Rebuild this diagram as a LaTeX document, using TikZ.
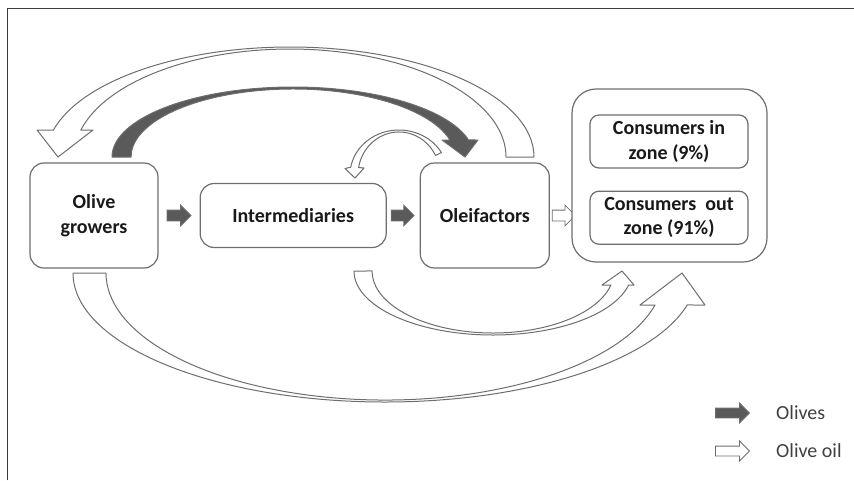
\documentclass[tikz,border=0pt]{standalone}
\usepackage{fontspec}
\setmainfont{Carlito}
\usetikzlibrary{arrows.meta, positioning, shapes.arrows}
\definecolor{edgegray}{RGB}{110,110,110}
\definecolor{olivefill}{RGB}{90,90,90}
\definecolor{framegray}{RGB}{60,60,60}

\begin{document}
\begin{tikzpicture}[
    x=1pt, y=-1pt,
    font=\fontsize{20}{24.5}\selectfont\bfseries,
    actorst/.style={draw=edgegray, line width=1.2pt, fill=white, rounded corners=14pt,
                    align=center, text=black!90, inner sep=2pt},
    consst/.style={draw=edgegray, line width=1.2pt, rounded corners=9pt,
                   minimum width=158pt, minimum height=53pt,
                   align=center, text=black!90, inner sep=2pt},
    olivearr/.style={single arrow, draw=edgegray, fill=olivefill, line width=0.8pt,
                     inner sep=0pt, inner ysep=5pt, single arrow head extend=5pt,
                     minimum height=24pt},
    oilarr/.style={olivearr, fill=white},
    curvedolive/.style={draw=edgegray, fill=olivefill, line width=1pt, line join=round},
    curvedoil/.style={curvedolive, fill=white},
    legtext/.style={font=\fontsize{20}{24}\selectfont, text=black!75, inner sep=0pt},
  ]
  \useasboundingbox (0,0) rectangle (854,480);
  %% Frame
  \draw[framegray, line width=0.8pt] (7,480) -- (7,8) -- (854,8);
  %% Main chain (left to right)
  \node[actorst, minimum width=128pt, minimum height=105pt] (growers) at (94,215.5) {Olive\\growers};
  \node[olivearr, right=8pt of growers] (g2i) {};
  \node[actorst, minimum width=186pt, minimum height=64pt, right=8pt of g2i] (inter) {Intermediaries};
  \node[olivearr, minimum height=23pt, right=4pt of inter] (i2o) {};
  \node[actorst, minimum width=129pt, minimum height=105pt, right=5pt of i2o] (oleif) {Oleifactors};
  \node[oilarr, minimum height=23pt, right=2pt of oleif] (o2c) {};
  %% Consumers
  \node[actorst, rounded corners=24pt, minimum width=195pt, minimum height=173pt] (cons) at (669.5,175.5) {};
  \node[consst] (inzone) at (669,141.5) {Consumers in\\zone (9\%)};
  \node[consst, below=22pt of inzone] (outzone) {Consumers~~out\\zone (91\%)};
  %% Curved flows
  % oil back to the growers
  \path[curvedoil] (534,157) arc[start angle=0, end angle=165.8, x radius=244pt, y radius=110pt]
    -- (37,130) -- (58,157) -- (93,130) -- (80.9,130)
    arc[start angle=165.5, end angle=0, x radius=216pt, y radius=108pt] -- cycle;
  % olives from the growers to the oleifactors
  \path[curvedolive] (112,157) arc[start angle=180, end angle=14.07, x radius=181pt, y radius=70pt]
    -- (478,140) -- (465,157) -- (442,140) -- (449.9,140)
    arc[start angle=14.48, end angle=180, x radius=162pt, y radius=68pt] -- cycle;
  % oil from the oleifactors to the intermediaries
  \path[curvedoil] (441.4,152.5) arc[start angle=30, end angle=170, x radius=49pt, y radius=45pt]
    -- (345,168.5) -- (355,178) -- (364,168) -- (358.6,167.5)
    arc[start angle=170, end angle=27, x radius=41pt, y radius=43pt] -- cycle;
  % oil from the intermediaries to the consumers
  \path[curvedoil] (354,271) arc[start angle=180, end angle=347.35, x radius=139pt, y radius=64pt]
    -- (634,285) -- (622,271) -- (602,285) -- (610.9,285)
    arc[start angle=346.94, end angle=180, x radius=121pt, y radius=62pt] -- cycle;
  % oil from the growers to the consumers
  \path[curvedoil] (73,273) arc[start angle=180, end angle=345.64, x radius=312pt, y radius=129pt]
    -- (705,305) -- (682,273) -- (640,305) -- (655,305)
    arc[start angle=345.41, end angle=180, x radius=279pt, y radius=127pt] -- cycle;
  %% Legend
  \node[olivearr, minimum height=34pt, inner ysep=4.5pt] (legolive) at (730,413) {};
  \node[legtext, right=26pt of legolive] (legolivetxt) {Olives};
  \node[oilarr, minimum height=34pt, inner ysep=4.5pt] (legoil) at (730,451) {};
  \node[legtext, right=26pt of legoil] (legoiltxt) {Olive oil};
\end{tikzpicture}
\end{document}
